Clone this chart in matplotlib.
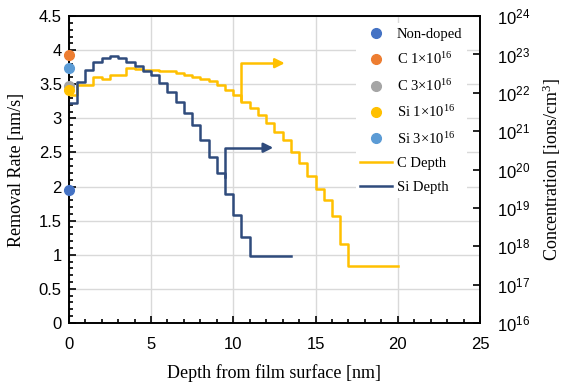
import matplotlib
matplotlib.use("Agg")
import matplotlib.pyplot as plt
import numpy as np
from matplotlib.ticker import MultipleLocator, FixedLocator, FuncFormatter, NullLocator

# removal rate at the surface (depth 0)
rate_labels = ["Non-doped", r"C 1$\mathregular{\times10^{16}}$", r"C 3$\mathregular{\times10^{16}}$",
               r"Si 1$\mathregular{\times10^{16}}$", r"Si 3$\mathregular{\times10^{16}}$"]
rate_values = [1.95, 3.93, 3.48, 3.42, 3.74]
rate_colors = ["#4472C4", "#ED7D31", "#A5A5A5", "#FFC000", "#5B9BD5"]

# implant depth profiles, log10 of concentration [ions/cm3], 0.5 nm steps
c_depth = [0.0, 0.5, 1.0, 1.5, 2.0, 2.5, 3.0, 3.5, 4.0, 4.5, 5.0, 5.5, 6.0, 6.5, 7.0,
           7.5, 8.0, 8.5, 9.0, 9.5, 10.0, 10.5, 11.0, 11.5, 12.0, 12.5, 13.0, 13.5,
           14.0, 14.5, 15.0, 15.5, 16.0, 16.5, 17.0, 20.0]
c_log = [21.94, 22.20, 22.20, 22.40, 22.36, 22.47, 22.47, 22.65, 22.61, 22.60, 22.60,
         22.58, 22.56, 22.52, 22.47, 22.42, 22.36, 22.31, 22.20, 22.08, 21.94, 21.76,
         21.60, 21.42, 21.21, 20.98, 20.76, 20.46, 20.18, 19.82, 19.48, 19.20, 18.79,
         18.06, 17.48, 17.48]
si_depth = [0.0, 0.5, 1.0, 1.5, 2.0, 2.5, 3.0, 3.5, 4.0, 4.5, 5.0, 5.5, 6.0, 6.5, 7.0,
            7.5, 8.0, 8.5, 9.0, 9.5, 10.0, 10.5, 11.0, 13.5]
si_log = [21.74, 22.28, 22.60, 22.81, 22.90, 22.95, 22.90, 22.81, 22.70, 22.58, 22.47,
          22.26, 22.03, 21.76, 21.48, 21.16, 20.76, 20.32, 19.91, 19.36, 18.81, 18.24,
          17.74, 17.74]

serif = "Liberation Serif"
plt.rcParams["font.family"] = ["Liberation Sans", "DejaVu Sans"]
gold = "#FFC000"
navy = "#2F4B7C"

fig, ax = plt.subplots(figsize=(5.64, 3.84), dpi=100)
fig.subplots_adjust(left=0.122, right=0.851, top=0.958, bottom=0.159)
ax2 = ax.twinx()

handles = []
for lab, v, col in zip(rate_labels, rate_values, rate_colors):
    h, = ax2.plot([0], [v], "o", color=col, ms=7, clip_on=False, zorder=5, label=lab,
                  transform=ax.transData)
    handles.append(h)

l1, = ax2.step(c_depth, 10 ** np.array(c_log), where="post", color=gold, lw=1.8, label="C Depth")
l2, = ax2.step(si_depth, 10 ** np.array(si_log), where="post", color=navy, lw=1.8, label="Si Depth")

# arrows pointing to the right axis
ax2.plot([10.5, 10.5, 12.7], [3.27, 3.81, 3.81], color=gold, lw=1.8, transform=ax.transData)
ax2.annotate("", xy=(13.3, 3.81), xytext=(12.5, 3.81), xycoords=ax.transData, textcoords=ax.transData,
             arrowprops=dict(arrowstyle="-|>", color=gold, lw=1.8, mutation_scale=14))
ax2.plot([9.5, 9.5, 12.0], [2.14, 2.57, 2.57], color=navy, lw=1.8, transform=ax.transData)
ax2.annotate("", xy=(12.6, 2.57), xytext=(11.8, 2.57), xycoords=ax.transData, textcoords=ax.transData,
             arrowprops=dict(arrowstyle="-|>", color=navy, lw=1.8, mutation_scale=14))

ax.set_xlim(0, 25)
ax.set_ylim(0, 4.5)
ax.xaxis.set_major_locator(MultipleLocator(5))
ax.xaxis.set_minor_locator(MultipleLocator(1))
ax.yaxis.set_major_locator(MultipleLocator(0.5))
ax.yaxis.set_minor_locator(MultipleLocator(0.1))
ax.yaxis.set_major_formatter(FuncFormatter(lambda v, p: f"{v:g}"))
ax.grid(True, which="major", color="#D9D9D9", lw=1.0)
ax.set_axisbelow(True)
ax.tick_params(which="both", direction="in", labelsize=12, width=1.2)
ax.tick_params(which="major", length=5)
ax.tick_params(which="minor", length=3)
ax.tick_params(axis="x", which="both", top=False, pad=10)
ax.tick_params(axis="y", which="both", right=False, pad=5)

ax2.set_yscale("log")
ax2.set_ylim(1e16, 1e24)
ax2.yaxis.set_major_locator(FixedLocator([10.0 ** k for k in range(16, 25)]))
ax2.yaxis.set_minor_locator(NullLocator())
ax2.yaxis.set_major_formatter(FuncFormatter(lambda v, p: r"$\mathregular{10^{%d}}$" % round(np.log10(v))))
ax2.tick_params(axis="y", direction="in", length=5, width=1.2, labelsize=12, pad=12)

for sp in ax.spines.values():
    sp.set_linewidth(1.2)
for sp in ax2.spines.values():
    sp.set_linewidth(1.2)

ax.set_xlabel("Depth from film surface [nm]", fontfamily=serif, fontsize=13, labelpad=9)
ax.set_ylabel("Removal Rate [nm/s]", fontfamily=serif, fontsize=13, labelpad=10)
ax2.set_ylabel(r"Concentration [ions/cm$\mathregular{^3}$]", fontfamily=serif, fontsize=13, labelpad=8)

leg = ax2.legend(handles + [l1, l2], rate_labels + ["C Depth", "Si Depth"],
                 loc="upper right", bbox_to_anchor=(0.985, 1.0), frameon=True,
                 prop={"family": serif, "size": 10.5}, labelspacing=0.72,
                 handlelength=2.2, handletextpad=0.3, borderpad=0.3)
leg.get_frame().set_edgecolor("none")
leg.get_frame().set_facecolor("white")
leg.get_frame().set_alpha(1)

fig.savefig("out.png", dpi=100)
